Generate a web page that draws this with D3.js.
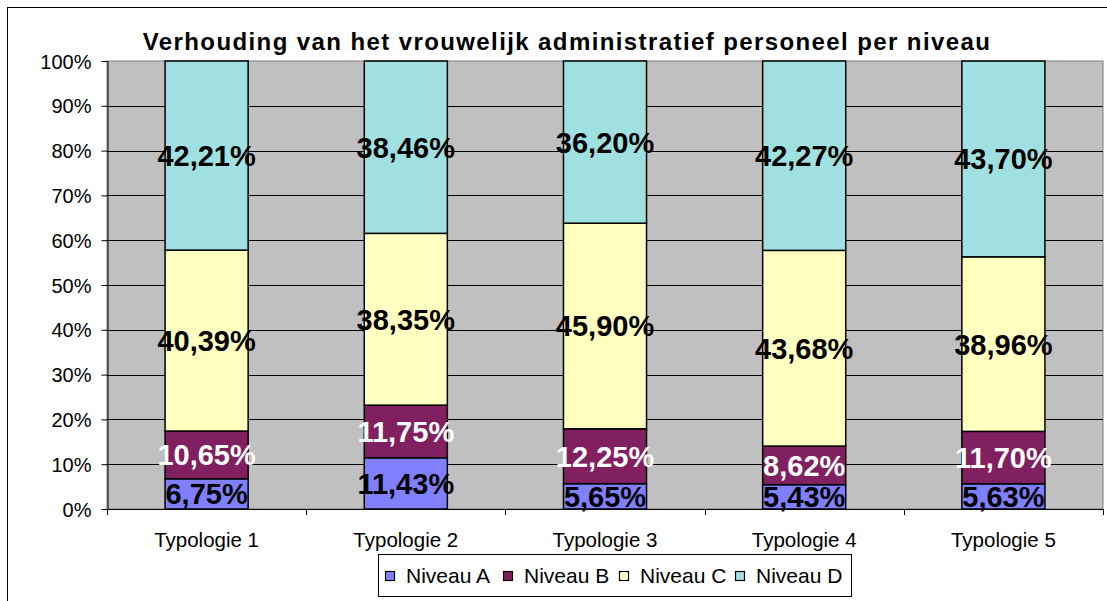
<!DOCTYPE html>
<html>
<head>
<meta charset="utf-8">
<script src="https://cdn.jsdelivr.net/npm/d3@7"></script>
<style>
  html, body { margin: 0; padding: 0; background: #fff; }
  svg { display: block; font-family: Arial, "Liberation Sans", sans-serif; }
</style>
</head>
<body>
<div id="chart"></div>
<script>
// categories and series values (percent)
const categories = ['Typologie 1', 'Typologie 2', 'Typologie 3', 'Typologie 4', 'Typologie 5'];
const levels = ['Niveau A', 'Niveau B', 'Niveau C', 'Niveau D'];
const niveauA = [6.75, 11.43, 5.65, 5.43, 5.63];
const niveauB = [10.65, 11.75, 12.25, 8.62, 11.70];
const niveauC = [40.39, 38.35, 45.90, 43.68, 38.96];
const niveauD = [42.21, 38.46, 36.20, 42.27, 43.70];
const yTicks = [0, 10, 20, 30, 40, 50, 60, 70, 80, 90, 100];

const colors = ['#8080FF', '#802060', '#FFFFC0', '#A0E0E0'];
const labelColors = ['#000', '#fff', '#000', '#000'];

const W = 1107, H = 601;
const plot = { left: 107, right: 1103, top: 61, bottom: 509 };

const svg = d3.select('#chart').append('svg')
  .attr('width', W).attr('height', H);

// outer frame
svg.append('rect')
  .attr('x', 7.5).attr('y', 7.5)
  .attr('width', W + 20).attr('height', H + 20)
  .attr('fill', '#fff').attr('stroke', '#000').attr('stroke-width', 1);

// title
svg.append('text')
  .attr('x', 567).attr('y', 50)
  .attr('text-anchor', 'middle')
  .attr('font-size', 24).attr('font-weight', 'bold')
  .attr('letter-spacing', 1.4)
  .text('Verhouding van het vrouwelijk administratief personeel per niveau');

// table built from the arrays
const table = categories.map((c, i) => ({
  cat: c,
  'Niveau A': niveauA[i], 'Niveau B': niveauB[i],
  'Niveau C': niveauC[i], 'Niveau D': niveauD[i]
}));
const stacked = d3.stack().keys(levels)(table);

const x = d3.scaleBand()
  .domain(categories)
  .range([plot.left, plot.right])
  .paddingInner(0.583).paddingOuter(0.2915);

const xOuter = d3.scaleBand().domain(categories).range([plot.left, plot.right]);

const y = d3.scaleLinear().domain([0, 100]).range([plot.bottom, plot.top]);

// plot background
svg.append('rect')
  .attr('x', plot.left).attr('y', plot.top)
  .attr('width', plot.right - plot.left).attr('height', plot.bottom - plot.top)
  .attr('fill', '#C0C0C0').attr('stroke', '#808080').attr('stroke-width', 1);

// gridlines
svg.append('g')
  .selectAll('line')
  .data(yTicks.filter(t => t > 0 && t < 100))
  .join('line')
    .attr('x1', plot.left).attr('x2', plot.right)
    .attr('y1', d => Math.round(y(d)) + 0.5).attr('y2', d => Math.round(y(d)) + 0.5)
    .attr('stroke', '#000').attr('stroke-width', 1);

// y axis
const yAxis = svg.append('g')
  .attr('transform', `translate(${plot.left + 0.5},0)`)
  .call(d3.axisLeft(y).tickValues(yTicks).tickFormat(d => d + '%').tickSize(6).tickSizeOuter(0));
yAxis.select('.domain').attr('stroke', '#000');
yAxis.selectAll('.tick line').attr('stroke', '#000');
yAxis.selectAll('.tick text')
  .attr('font-size', 20).attr('fill', '#000')
  .attr('x', -16).attr('dy', '0.35em')
  .attr('font-family', 'Arial, "Liberation Sans", sans-serif');

// x axis: line + ticks at category boundaries
const xAxisG = svg.append('g');
xAxisG.append('line')
  .attr('x1', plot.left).attr('x2', plot.right)
  .attr('y1', plot.bottom + 0.5).attr('y2', plot.bottom + 0.5)
  .attr('stroke', '#000');
const bounds = categories.map(c => xOuter(c)).concat([plot.right]);
xAxisG.selectAll('line.tk')
  .data(bounds)
  .join('line').attr('class', 'tk')
    .attr('x1', d => Math.round(d) + 0.5).attr('x2', d => Math.round(d) + 0.5)
    .attr('y1', plot.bottom).attr('y2', plot.bottom + 6)
    .attr('stroke', '#000');
xAxisG.selectAll('text')
  .data(categories)
  .join('text')
    .attr('x', d => xOuter(d) + xOuter.bandwidth() / 2)
    .attr('y', 547)
    .attr('text-anchor', 'middle')
    .attr('font-size', 20.5)
    .text(d => d);

// bars
const layers = svg.append('g')
  .selectAll('g')
  .data(stacked)
  .join('g')
    .attr('fill', (d, i) => colors[i]);

layers.selectAll('rect')
  .data(d => d.map(s => ({ s, cat: s.data.cat })))
  .join('rect')
    .attr('x', d => x(d.cat))
    .attr('y', d => y(d.s[1]))
    .attr('width', x.bandwidth())
    .attr('height', d => y(d.s[0]) - y(d.s[1]))
    .attr('stroke', '#000').attr('stroke-width', 1.5);

// value labels
const fmt = v => v.toFixed(2).replace('.', ',') + '%';
stacked.forEach((layer, li) => {
  svg.append('g')
    .selectAll('text')
    .data(layer)
    .join('text')
      .attr('x', d => x(d.data.cat) + x.bandwidth() / 2)
      .attr('y', d => y((d[0] + d[1]) / 2))
      .attr('dy', '0.36em')
      .attr('text-anchor', 'middle')
      .attr('font-size', 29).attr('font-weight', 'bold')
      .attr('fill', labelColors[li])
      .text(d => fmt(d[1] - d[0]));
});

// legend
const lg = svg.append('g');
lg.append('rect')
  .attr('x', 378.5).attr('y', 554.5).attr('width', 473).attr('height', 42)
  .attr('fill', '#fff').attr('stroke', '#000');
const legendX = [385, 503, 619, 735];
levels.forEach((lv, i) => {
  lg.append('rect')
    .attr('x', legendX[i] + 0.5).attr('y', 571.5).attr('width', 9).attr('height', 9)
    .attr('fill', colors[i]).attr('stroke', '#000').attr('stroke-width', 1.2);
  lg.append('text')
    .attr('x', legendX[i] + 21).attr('y', 583)
    .attr('font-size', 21)
    .text(lv);
});
</script>
</body>
</html>
